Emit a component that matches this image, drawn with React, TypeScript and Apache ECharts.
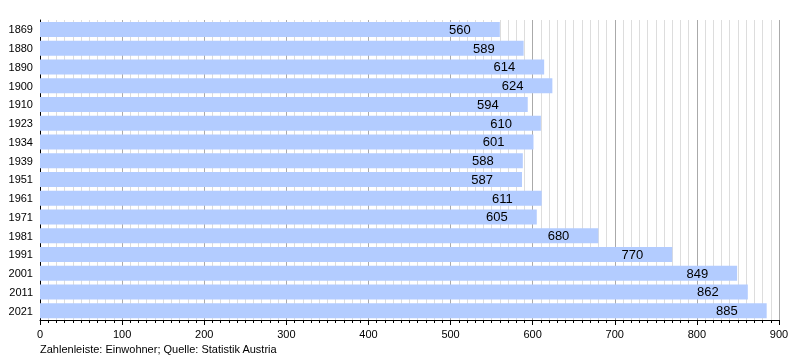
import React, { useEffect, useRef } from "react";
import * as echarts from "echarts";

const years = ["1869","1880","1890","1900","1910","1923","1934","1939","1951","1961","1971","1981","1991","2001","2011","2021"];
const population = [560,589,614,624,594,610,601,588,587,611,605,680,770,849,862,885];
const caption = "Zahlenleiste: Einwohner; Quelle: Statistik Austria";

export default function App() {
  const ref = useRef<HTMLDivElement>(null);
  useEffect(() => {
    const chart = echarts.init(ref.current!, null, { renderer: "svg" });
    const font = "'Liberation Sans', Arial, sans-serif";
    chart.setOption({
      animation: false,
      textStyle: { fontFamily: font },
      grid: { left: 40, right: 21, top: 20, bottom: 40, containLabel: false },
      xAxis: {
        type: "value",
        min: 0,
        max: 900,
        interval: 100,
        axisLine: { show: true, lineStyle: { color: "#000", width: 1 } },
        axisTick: { show: true, length: 5, lineStyle: { color: "#000" } },
        minorTick: { show: true, splitNumber: 10, length: 3, lineStyle: { color: "#000" } },
        axisLabel: { color: "#000", fontSize: 11, fontFamily: font, margin: 8 },
        splitLine: { show: true, lineStyle: { color: "#aaaaaa", width: 1 } },
        minorSplitLine: { show: true, lineStyle: { color: "#dddddd", width: 1 } },
      },
      yAxis: {
        type: "category",
        data: years,
        inverse: true,
        axisLine: { show: true, lineStyle: { color: "#000", width: 1 } },
        axisTick: { show: false },
        axisLabel: { color: "#000", fontSize: 11, fontFamily: font, margin: 7 },
        splitLine: { show: false },
      },
      series: [
        {
          type: "bar",
          data: population,
          barCategoryGap: "20%",
          itemStyle: { color: "#b3ccff" },
          label: {
            show: true,
            position: "insideRight",
            offset: [-24, 0],
            color: "#000",
            fontSize: 13,
            fontFamily: font,
          },
        },
      ],
      graphic: [
        {
          type: "text",
          left: 40,
          top: 343,
          style: { text: caption, fill: "#000", fontSize: 11, fontFamily: font },
        },
      ],
    });
    return () => chart.dispose();
  }, []);
  return <div ref={ref} style={{ position: "fixed", left: 0, top: 0, width: 800, height: 360 }} />;
}
